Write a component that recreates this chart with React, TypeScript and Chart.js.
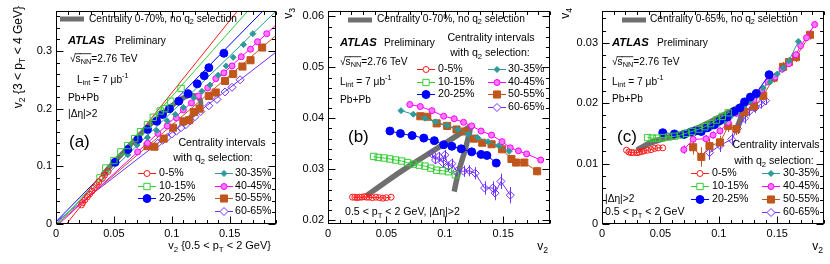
import React, { useEffect, useRef } from "react";
import { Chart, registerables } from "chart.js";

Chart.register(...registerables);

type Pt = [number, number];

// ---------------- shared axis data ----------------
const X_MIN = 0;
const X_MAX = 0.19;
const X_TICKS = [0, 0.05, 0.1, 0.15];
const X_TICK_LABELS = ["0", "0.05", "0.1", "0.15"];
const X_MINOR = 0.01;

const CENTRALITY_LABELS = ["0-5%", "10-15%", "20-25%", "30-35%", "40-45%", "50-55%", "60-65%"];

// ---------------- panel (a): v2{3<pT<4} vs v2{0.5<pT<2} ----------------
const A_Y_MIN = 0;
const A_Y_MAX = 0.37;
const A_Y_TICKS = [0, 0.1, 0.2, 0.3];
const A_Y_TICK_LABELS = ["0", "0.1", "0.2", "0.3"];
const A_Y_MINOR = 0.02;

const A_0_5: Pt[] = [[0.022, 0.033], [0.023, 0.037], [0.025, 0.042], [0.027, 0.047], [0.029, 0.052], [0.031, 0.057], [0.033, 0.063], [0.035, 0.068], [0.037, 0.073], [0.04, 0.079], [0.042, 0.085], [0.045, 0.091]];
const A_10_15: Pt[] = [[0.038, 0.08], [0.043, 0.097], [0.05, 0.11], [0.056, 0.125], [0.062, 0.136], [0.068, 0.148], [0.073, 0.16], [0.079, 0.172], [0.084, 0.185], [0.09, 0.196], [0.094, 0.2], [0.099, 0.213], [0.108, 0.235]];
const A_20_25: Pt[] = [[0.051, 0.107], [0.062, 0.129], [0.071, 0.147], [0.079, 0.164], [0.087, 0.178], [0.092, 0.19], [0.098, 0.2], [0.106, 0.213], [0.114, 0.226], [0.122, 0.243], [0.128, 0.257], [0.132, 0.271], [0.145, 0.296]];
const A_30_35: Pt[] = [[0.062, 0.12], [0.07, 0.137], [0.079, 0.15], [0.087, 0.162], [0.096, 0.179], [0.103, 0.19], [0.11, 0.202], [0.119, 0.219], [0.126, 0.23], [0.133, 0.241], [0.14, 0.258], [0.147, 0.274], [0.153, 0.289], [0.162, 0.311], [0.17, 0.33]];
const A_40_45: Pt[] = [[0.0705, 0.125], [0.079, 0.14], [0.088, 0.157], [0.096, 0.17], [0.104, 0.184], [0.11, 0.198], [0.117, 0.21], [0.123, 0.222], [0.131, 0.236], [0.138, 0.252], [0.145, 0.262], [0.152, 0.274], [0.16, 0.29], [0.168, 0.303], [0.174, 0.316], [0.182, 0.33]];
const A_50_55: Pt[] = [[0.079, 0.135], [0.085, 0.134], [0.093, 0.148], [0.101, 0.167], [0.11, 0.178], [0.115, 0.18], [0.119, 0.194], [0.124, 0.2], [0.132, 0.222], [0.138, 0.228], [0.146, 0.248], [0.153, 0.26], [0.161, 0.273], [0.168, 0.284], [0.178, 0.306]];
const A_60_65: Pt[] = [[0.088, 0.14], [0.092, 0.145], [0.096, 0.15], [0.1, 0.156], [0.104, 0.161], [0.108, 0.167], [0.112, 0.172], [0.116, 0.179], [0.12, 0.186], [0.125, 0.195], [0.132, 0.205], [0.139, 0.216], [0.146, 0.229], [0.152, 0.237], [0.159, 0.25]];

// straight-line fits (end points)
const A_FIT_0_5: Pt[] = [[0.009, 0], [0.157, 0.37]];
const A_FIT_10_15: Pt[] = [[0.002, 0], [0.166, 0.37]];
const A_FIT_20_25: Pt[] = [[0, 0.004], [0.179, 0.37]];
const A_FIT_30_35: Pt[] = [[0, 0], [0.19, 0.369]];
const A_FIT_40_45: Pt[] = [[0.0026, 0], [0.19, 0.345]];
const A_FIT_50_55: Pt[] = [[0.001, 0], [0.19, 0.327]];
const A_FIT_60_65: Pt[] = [[0, 0.0036], [0.19, 0.298]];

const A_ALL: Pt[] = [[0.04, 0.085], [0.05, 0.107], [0.06, 0.128], [0.07, 0.15], [0.08, 0.17], [0.09, 0.188], [0.1, 0.205], [0.108, 0.217], [0.116, 0.223], [0.123, 0.219], [0.125, 0.207], [0.121, 0.195], [0.115, 0.183], [0.109, 0.172]];

// ---------------- panel (b): v3 vs v2 ----------------
const B_Y_MIN = 0.01923;
const B_Y_MAX = 0.06115;
const B_Y_TICKS = [0.02, 0.03, 0.04, 0.05, 0.06];
const B_Y_TICK_LABELS = ["0.02", "0.03", "0.04", "0.05", "0.06"];
const B_Y_MINOR = 0.002;

const B_0_5: Pt[] = [[0.021, 0.0245], [0.023, 0.0245], [0.025, 0.0244], [0.027, 0.0245], [0.029, 0.0245], [0.031, 0.0246], [0.033, 0.0245], [0.035, 0.0245], [0.038, 0.0244], [0.041, 0.0245], [0.044, 0.0244], [0.047, 0.0243], [0.05, 0.0244], [0.054, 0.0245]];
const B_10_15: Pt[] = [[0.039, 0.0325], [0.043, 0.0323], [0.048, 0.0322], [0.053, 0.032], [0.058, 0.0318], [0.063, 0.0316], [0.068, 0.0313], [0.073, 0.031], [0.078, 0.0308], [0.083, 0.0306], [0.088, 0.0302], [0.093, 0.0298], [0.098, 0.0297], [0.103, 0.0295], [0.109, 0.0289]];
const B_20_25: Pt[] = [[0.053, 0.0375], [0.062, 0.037], [0.072, 0.0366], [0.082, 0.0361], [0.091, 0.0356], [0.099, 0.0348], [0.106, 0.0345], [0.114, 0.034], [0.123, 0.0334], [0.131, 0.0329], [0.136, 0.0327], [0.144, 0.0312]];
const B_30_35: Pt[] = [[0.0625, 0.0415], [0.073, 0.0408], [0.083, 0.04], [0.092, 0.0393], [0.102, 0.0386], [0.111, 0.0378], [0.12, 0.0369], [0.128, 0.0362], [0.137, 0.0354], [0.146, 0.0346], [0.155, 0.0335]];
const B_40_45: Pt[] = [[0.07, 0.0427], [0.079, 0.0423], [0.089, 0.0415], [0.099, 0.0404], [0.108, 0.0399], [0.116, 0.0392], [0.123, 0.0385], [0.131, 0.0375], [0.14, 0.0367], [0.149, 0.0354], [0.156, 0.0342], [0.163, 0.0336], [0.17, 0.033], [0.182, 0.0318]];
const B_50_55: Pt[] = [[0.079, 0.0404], [0.085, 0.0403], [0.093, 0.039], [0.102, 0.0385], [0.11, 0.0378], [0.117, 0.0374], [0.125, 0.036], [0.132, 0.0352], [0.14, 0.0349], [0.149, 0.0339], [0.157, 0.032], [0.161, 0.0313], [0.168, 0.0313], [0.179, 0.0296]];
const B_60_65: Pt[] = [[0.089, 0.033], [0.092, 0.0318], [0.095, 0.0325], [0.098, 0.0313], [0.1, 0.0328], [0.103, 0.0305], [0.106, 0.0311], [0.11, 0.0296], [0.116, 0.0296], [0.121, 0.0297], [0.126, 0.0292], [0.134, 0.0263], [0.141, 0.0263], [0.143, 0.0253], [0.148, 0.0276], [0.156, 0.0249]];
const B_ERR_50_55 = [0.0002, 0.0002, 0.0002, 0.0002, 0.0003, 0.0003, 0.0003, 0.0003, 0.0004, 0.0004, 0.0006, 0.0006, 0.0006, 0.0008];
const B_ERR_60_65 = [0.0008, 0.0008, 0.0009, 0.0009, 0.001, 0.001, 0.001, 0.001, 0.0011, 0.0011, 0.0012, 0.0013, 0.0013, 0.0014, 0.0015, 0.0016];
const B_ALL: Pt[] = [[0.033, 0.0248], [0.05, 0.0276], [0.07, 0.0307], [0.09, 0.0336], [0.105, 0.0358], [0.115, 0.0373], [0.122, 0.0384], [0.12, 0.0362], [0.117, 0.0335], [0.113, 0.0305], [0.11, 0.0278], [0.108, 0.0256]];

// ---------------- panel (c): v4 vs v2 ----------------
const C_Y_MIN = 0;
const C_Y_MAX = 0.0353;
const C_Y_TICKS = [0, 0.01, 0.02, 0.03];
const C_Y_TICK_LABELS = ["0", "0.01", "0.02", "0.03"];
const C_Y_MINOR = 0.002;

const C_0_5: Pt[] = [[0.021, 0.0122], [0.023, 0.0119], [0.025, 0.0118], [0.027, 0.0118], [0.03, 0.0118], [0.032, 0.0119], [0.034, 0.012], [0.036, 0.0121], [0.039, 0.0122], [0.042, 0.0123], [0.045, 0.0125], [0.048, 0.0126], [0.052, 0.0126]];
const C_10_15: Pt[] = [[0.039, 0.0143], [0.043, 0.0142], [0.047, 0.0142], [0.052, 0.0143], [0.057, 0.0144], [0.062, 0.0145], [0.067, 0.0147], [0.072, 0.015], [0.077, 0.0153], [0.083, 0.0157], [0.088, 0.0161], [0.093, 0.0166], [0.098, 0.0172], [0.103, 0.0178], [0.108, 0.0184]];
const C_20_25: Pt[] = [[0.052, 0.0151], [0.062, 0.0149], [0.07, 0.0148], [0.076, 0.0152], [0.08, 0.0154], [0.085, 0.0153], [0.09, 0.0159], [0.096, 0.0164], [0.101, 0.0171], [0.107, 0.0177], [0.113, 0.0186], [0.118, 0.0192], [0.122, 0.0202], [0.127, 0.021], [0.132, 0.0216], [0.143, 0.0247]];
const C_30_35: Pt[] = [[0.073, 0.0148], [0.08, 0.0151], [0.087, 0.0155], [0.093, 0.0159], [0.099, 0.0164], [0.105, 0.017], [0.11, 0.0178], [0.116, 0.0186], [0.121, 0.0194], [0.127, 0.0203], [0.133, 0.0212], [0.138, 0.0225], [0.144, 0.0235], [0.15, 0.0248], [0.155, 0.0258], [0.16, 0.027], [0.168, 0.0302]];
const C_40_45: Pt[] = [[0.07, 0.0123], [0.078, 0.014], [0.089, 0.0141], [0.095, 0.0147], [0.101, 0.0154], [0.108, 0.0168], [0.115, 0.0183], [0.12, 0.0193], [0.125, 0.0202], [0.13, 0.0205], [0.137, 0.0222], [0.142, 0.0235], [0.148, 0.0243], [0.154, 0.0256], [0.16, 0.0265], [0.166, 0.028], [0.17, 0.0295], [0.175, 0.0308], [0.182, 0.033]];
const C_50_55: Pt[] = [[0.078, 0.0127], [0.085, 0.0111], [0.092, 0.0129], [0.101, 0.0135], [0.108, 0.0162], [0.115, 0.0157], [0.122, 0.0185], [0.13, 0.0195], [0.138, 0.0212], [0.147, 0.0242], [0.155, 0.026], [0.16, 0.0268], [0.166, 0.0276], [0.178, 0.0313]];
const C_60_65: Pt[] = [[0.092, 0.0118], [0.101, 0.013], [0.111, 0.014], [0.116, 0.0158], [0.122, 0.0175], [0.126, 0.0186], [0.131, 0.0192], [0.136, 0.0198], [0.14, 0.0204]];
const C_ERR_40_45 = [0.0007, 0.0006, 0.0006, 0.0006, 0.0006, 0.0006, 0.0005, 0.0005, 0.0005, 0.0005, 0.0005, 0.0005, 0.0005, 0.0005, 0.0005, 0.0005, 0.0005, 0.0005, 0.0005];
const C_ERR_50_55 = [0.0012, 0.0016, 0.0013, 0.0011, 0.001, 0.001, 0.0009, 0.0009, 0.0008, 0.0008, 0.0008, 0.0008, 0.0008, 0.0008];
const C_ERR_60_65 = [0.0012, 0.0011, 0.001, 0.0009, 0.0009, 0.0008, 0.0008, 0.0007, 0.0007];
const C_ALL: Pt[] = [[0.03, 0.0122], [0.04, 0.0133], [0.05, 0.014], [0.06, 0.0145], [0.07, 0.015], [0.08, 0.0157], [0.09, 0.0166], [0.1, 0.0176], [0.11, 0.0186], [0.118, 0.0194], [0.122, 0.0198], [0.12, 0.0182], [0.117, 0.0165], [0.115, 0.0157]];

// ---------------- styles ----------------
const FONT = '"Liberation Sans", Arial, Helvetica, sans-serif';
const GRAY = "#6f6f6f";
type MStyle = { color: string; shape: "circle" | "rect" | "rectRot"; open: boolean; r: number; fill?: string };
const SERIES_STYLE: MStyle[] = [
  { color: "#ff1a1a", shape: "circle", open: true, r: 3 },
  { color: "#33cc33", shape: "rect", open: true, r: 4.5 },
  { color: "#0000ff", shape: "circle", open: false, r: 4 },
  { color: "#2e9999", shape: "rectRot", open: false, r: 3 },
  { color: "#ff00ff", shape: "circle", open: false, r: 3, fill: "#ff77ff" },
  { color: "#c0561b", shape: "rect", open: false, r: 5 },
  { color: "#7030ff", shape: "rectRot", open: true, r: 4 },
];

type TextItem = { s: string; x: number; y: number; size?: number; align?: "left" | "center" | "right"; bold?: boolean; italic?: boolean; rot?: boolean };

interface PanelSpec {
  left: number;
  width: number;
  frame: { l: number; r: number; t: number; b: number };
  yMin: number; yMax: number; yTicks: number[]; yTickLabels: string[]; yMinor: number;
  series: Pt[][];
  errs: (number[] | null)[];
  fits: Pt[][] | null;
  gray: Pt[]; grayWidth: number; grayTension: number;
  connect: boolean;
  texts: TextItem[];
  grayLegend: { x1: number; x2: number; y: number };
  legend: { c1m: number; c1t: number; c2m: number; c2t: number; rows: number[]; half: number };
}

const TXT = 10.2;
const TXT_L = 10.6;
const TITLE = 12;

// ---------------- rich text ----------------
type Seg = { t: string; dy: number; scale: number; over: boolean };
function matchBrace(s: string, open: number): number {
  let depth = 0;
  for (let i = open; i < s.length; i++) {
    if (s[i] === "{") depth++;
    else if (s[i] === "}") { depth--; if (depth === 0) return i; }
  }
  return s.length - 1;
}
function parseRich(src: string): Seg[] {
  const s = src.replace(/#mu/g, "\u03bc").replace(/#Delta/g, "\u0394").replace(/#eta/g, "\u03b7");
  const segs: Seg[] = [];
  const walk = (str: string, mode: { dy: number; scale: number; over: boolean }) => {
    let buf = "";
    const flush = () => { if (buf) { segs.push({ t: buf, ...mode }); buf = ""; } };
    let i = 0;
    while (i < str.length) {
      if ((str[i] === "_" || str[i] === "^") && str[i + 1] === "{") {
        flush();
        const end = matchBrace(str, i + 1);
        walk(str.slice(i + 2, end), { dy: mode.dy + (str[i] === "_" ? 0.32 : -0.38) * mode.scale, scale: mode.scale * 0.72, over: mode.over });
        i = end + 1;
      } else if (str.startsWith("#sqrt{", i)) {
        flush();
        const end = matchBrace(str, i + 5);
        segs.push({ t: "\u221a", ...mode });
        walk(str.slice(i + 6, end), { ...mode, over: true });
        i = end + 1;
      } else { buf += str[i]; i++; }
    }
    flush();
  };
  walk(s, { dy: 0, scale: 1, over: false });
  return segs;
}
function drawRich(ctx: CanvasRenderingContext2D, item: TextItem, offX: number) {
  const size = item.size ?? TXT;
  const segs = parseRich(item.s);
  const fontOf = (sc: number) => `${item.italic ? "italic " : ""}${item.bold ? "bold " : ""}${size * sc}px ${FONT}`;
  const widths = segs.map((sg) => { ctx.font = fontOf(sg.scale); return ctx.measureText(sg.t).width; });
  const total = widths.reduce((a, b) => a + b, 0);
  ctx.save();
  ctx.translate(item.x - offX, item.y);
  if (item.rot) ctx.rotate(-Math.PI / 2);
  let cx = item.align === "center" ? -total / 2 : item.align === "right" ? -total : 0;
  ctx.textBaseline = "middle";
  ctx.textAlign = "left";
  ctx.fillStyle = "#000";
  ctx.strokeStyle = "#000";
  ctx.lineWidth = 0.8;
  segs.forEach((sg, i) => {
    ctx.font = fontOf(sg.scale);
    ctx.fillText(sg.t, cx, sg.dy * size);
    if (sg.over) {
      ctx.beginPath();
      ctx.moveTo(cx - 1, -0.52 * size);
      ctx.lineTo(cx + widths[i], -0.52 * size);
      ctx.stroke();
    }
    cx += widths[i];
  });
  ctx.restore();
}

function drawMarker(ctx: CanvasRenderingContext2D, st: MStyle, x: number, y: number) {
  ctx.save();
  ctx.strokeStyle = st.color;
  ctx.fillStyle = st.open ? "#ffffff" : st.fill ?? st.color;
  ctx.lineWidth = 1;
  ctx.beginPath();
  const r = st.r;
  if (st.shape === "circle") ctx.arc(x, y, r, 0, Math.PI * 2);
  else if (st.shape === "rect") { const h = r * Math.SQRT1_2; ctx.rect(x - h, y - h, 2 * h, 2 * h); }
  else { ctx.moveTo(x - r, y); ctx.lineTo(x, y - r); ctx.lineTo(x + r, y); ctx.lineTo(x, y + r); ctx.closePath(); }
  ctx.fill();
  ctx.stroke();
  ctx.restore();
}

// ---------------- chart config ----------------
function buildConfig(spec: PanelSpec): any {
  const toXY = (pts: Pt[]) => pts.map(([x, y]) => ({ x, y }));
  const datasets: any[] = [];
  spec.series.forEach((pts, i) => {
    const st = SERIES_STYLE[i];
    datasets.push({
      label: CENTRALITY_LABELS[i],
      data: toXY(pts),
      showLine: spec.connect,
      borderColor: st.color,
      borderWidth: 1,
      pointStyle: st.shape,
      pointRadius: st.r,
      pointBackgroundColor: st.open ? "rgba(255,255,255,0)" : st.fill ?? st.color,
      pointBorderColor: st.color,
      pointBorderWidth: 1,
      errY: spec.errs[i],
      order: 1,
    });
  });
  if (spec.fits) {
    spec.fits.forEach((pts, i) => {
      datasets.push({ data: toXY(pts), showLine: true, borderColor: SERIES_STYLE[i].color, borderWidth: 1, pointRadius: 0, order: 3 });
    });
  }
  datasets.push({ data: toXY(spec.gray), showLine: true, borderColor: GRAY, borderWidth: spec.grayWidth, borderCapStyle: "butt", pointRadius: 0, tension: spec.grayTension, order: 2 });

  const errPlugin = {
    id: "errbars",
    beforeDatasetsDraw(chart: any) {
      const { ctx, chartArea: ca, scales } = chart;
      ctx.save();
      ctx.beginPath();
      ctx.rect(ca.left, ca.top, ca.right - ca.left, ca.bottom - ca.top);
      ctx.clip();
      chart.data.datasets.forEach((ds: any) => {
        if (!ds.errY) return;
        ctx.strokeStyle = ds.borderColor;
        ctx.lineWidth = 1;
        ds.data.forEach((p: any, k: number) => {
          const e = ds.errY[k];
          if (!e) return;
          const px = Math.round(scales.x.getPixelForValue(p.x)) + 0.5;
          ctx.beginPath();
          ctx.moveTo(px, scales.y.getPixelForValue(p.y - e));
          ctx.lineTo(px, scales.y.getPixelForValue(p.y + e));
          ctx.stroke();
        });
      });
      ctx.restore();
    },
  };

  const decoPlugin = {
    id: "deco",
    afterDraw(chart: any) {
      const { ctx, chartArea: ca, scales } = chart;
      const xs = scales.x;
      const ys = scales.y;
      const L = Math.round(ca.left) + 0.5;
      const R = Math.round(ca.right) - 0.5;
      const T = Math.round(ca.top) + 0.5;
      const B = Math.round(ca.bottom) - 0.5;
      ctx.save();
      ctx.strokeStyle = "#000";
      ctx.lineWidth = 1;
      ctx.strokeRect(L, T, R - L, B - T);
      const MAJ = 7;
      const MIN = 3.5;
      ctx.beginPath();
      const isMajor = (v: number, list: number[]) => list.some((m) => Math.abs(m - v) < 1e-9);
      for (let k = 0; k * X_MINOR <= X_MAX + 1e-9; k++) {
        const v = +(k * X_MINOR).toFixed(6);
        const len = isMajor(v, X_TICKS) ? MAJ : MIN;
        const px = Math.round(xs.getPixelForValue(v)) + 0.5;
        ctx.moveTo(px, B); ctx.lineTo(px, B - len);
        ctx.moveTo(px, T); ctx.lineTo(px, T + len);
      }
      const k0 = Math.ceil(spec.yMin / spec.yMinor - 1e-6);
      for (let k = k0; k * spec.yMinor <= spec.yMax + 1e-9; k++) {
        const v = +(k * spec.yMinor).toFixed(6);
        const len = isMajor(v, spec.yTicks) ? MAJ : MIN;
        const py = Math.round(ys.getPixelForValue(v)) + 0.5;
        ctx.moveTo(L, py); ctx.lineTo(L + len, py);
        ctx.moveTo(R, py); ctx.lineTo(R - len, py);
      }
      ctx.stroke();

      // gray legend sample
      const g = spec.grayLegend;
      ctx.fillStyle = GRAY;
      ctx.fillRect(g.x1 - spec.left, g.y - 2.5, g.x2 - g.x1, 5);

      // centrality legend
      const lg = spec.legend;
      CENTRALITY_LABELS.forEach((lab, i) => {
        const col2 = i >= 3;
        const row = col2 ? i - 3 : i;
        const mx = (col2 ? lg.c2m : lg.c1m) - spec.left;
        const tx = col2 ? lg.c2t : lg.c1t;
        const y = lg.rows[row];
        const st = SERIES_STYLE[i];
        ctx.strokeStyle = st.color;
        ctx.lineWidth = 1;
        ctx.beginPath();
        ctx.moveTo(mx - lg.half, y + 0.5);
        ctx.lineTo(mx + lg.half, y + 0.5);
        ctx.stroke();
        drawMarker(ctx, st, mx, y + 0.5);
        drawRich(ctx, { s: lab, x: tx, y, size: TXT_L }, spec.left);
      });

      spec.texts.forEach((t) => drawRich(ctx, t, spec.left));
      ctx.restore();
    },
  };

  const tickFont = { family: FONT, size: 11 };
  return {
    type: "scatter",
    data: { datasets },
    options: {
      animation: false,
      responsive: false,
      devicePixelRatio: 1,
      events: [],
      layout: { padding: { top: spec.frame.t, right: spec.left + spec.width - spec.frame.r, left: 0, bottom: 0 } },
      plugins: { legend: { display: false }, tooltip: { enabled: false } },
      scales: {
        x: {
          type: "linear",
          min: X_MIN,
          max: X_MAX,
          grid: { display: false, drawTicks: false },
          border: { display: false },
          ticks: { color: "#000", font: tickFont, padding: 3, maxRotation: 0, autoSkip: false, callback: (_v: any, i: number) => X_TICK_LABELS[i] ?? "" },
          afterBuildTicks: (s: any) => { s.ticks = X_TICKS.map((value) => ({ value })); },
          afterFit: (s: any) => { s.height = 264 - spec.frame.b; },
        },
        y: {
          type: "linear",
          min: spec.yMin,
          max: spec.yMax,
          grid: { display: false, drawTicks: false },
          border: { display: false },
          ticks: { color: "#000", font: tickFont, padding: 4, autoSkip: false, callback: (_v: any, i: number) => spec.yTickLabels[i] ?? "" },
          afterBuildTicks: (s: any) => { s.ticks = spec.yTicks.map((value) => ({ value })); },
          afterFit: (s: any) => { s.width = spec.frame.l - spec.left; },
        },
      },
    },
    plugins: [errPlugin, decoPlugin],
  };
}

// ---------------- panel specs ----------------
const PANEL_A: PanelSpec = {
  left: 0, width: 282,
  frame: { l: 56, r: 279, t: 5, b: 224 },
  yMin: A_Y_MIN, yMax: A_Y_MAX, yTicks: A_Y_TICKS, yTickLabels: A_Y_TICK_LABELS, yMinor: A_Y_MINOR,
  series: [A_0_5, A_10_15, A_20_25, A_30_35, A_40_45, A_50_55, A_60_65],
  errs: [null, null, null, null, null, null, null],
  fits: [A_FIT_0_5, A_FIT_10_15, A_FIT_20_25, A_FIT_30_35, A_FIT_40_45, A_FIT_50_55, A_FIT_60_65],
  gray: A_ALL, grayWidth: 5, grayTension: 0.35,
  connect: false,
  grayLegend: { x1: 60, x2: 84, y: 19 },
  legend: { c1m: 147, c1t: 159, c2m: 224, c2t: 235, rows: [173, 186, 198, 211], half: 9 },
  texts: [
    { s: "Centrality 0-70%, no q_{2} selection", x: 89, y: 19 },
    { s: "ATLAS", x: 68, y: 41, size: 11.3, bold: true, italic: true },
    { s: "Preliminary", x: 115, y: 41 },
    { s: "#sqrt{s_{NN}}=2.76 TeV", x: 70, y: 59 },
    { s: "L_{int} = 7 #mub^{-1}", x: 77, y: 80 },
    { s: "Pb+Pb", x: 68, y: 98 },
    { s: "|#Delta#eta|>2", x: 68, y: 114 },
    { s: "(a)", x: 69, y: 142, size: 17 },
    { s: "Centrality intervals", x: 222, y: 143, size: TXT_L, align: "center" },
    { s: "with q_{2} selection:", x: 213, y: 158, size: TXT_L, align: "center" },
    { s: "v_{2} {3 < p_{T} < 4 GeV}", x: 19, y: 6, size: TITLE, align: "right", rot: true },
    { s: "v_{2} {0.5 < p_{T} < 2 GeV}", x: 271, y: 246, size: 11, align: "right" },
  ],
};

const PANEL_B: PanelSpec = {
  left: 282, width: 274,
  frame: { l: 328, r: 551, t: 5, b: 224 },
  yMin: B_Y_MIN, yMax: B_Y_MAX, yTicks: B_Y_TICKS, yTickLabels: B_Y_TICK_LABELS, yMinor: B_Y_MINOR,
  series: [B_0_5, B_10_15, B_20_25, B_30_35, B_40_45, B_50_55, B_60_65],
  errs: [null, null, null, null, null, B_ERR_50_55, B_ERR_60_65],
  fits: null,
  gray: B_ALL, grayWidth: 5.5, grayTension: 0.2,
  connect: true,
  grayLegend: { x1: 348, x2: 372, y: 20 },
  legend: { c1m: 426, c1t: 438, c2m: 497, c2t: 508, rows: [69, 82, 94, 107], half: 9 },
  texts: [
    { s: "Centrality 0-70%, no q_{2} selection", x: 377, y: 19 },
    { s: "ATLAS", x: 340, y: 43, size: 11.3, bold: true, italic: true },
    { s: "Preliminary", x: 384, y: 43 },
    { s: "#sqrt{s_{NN}}=2.76 TeV", x: 340, y: 62 },
    { s: "L_{int} = 7 #mub^{-1}", x: 340, y: 82 },
    { s: "Pb+Pb", x: 340, y: 100 },
    { s: "(b)", x: 348, y: 137, size: 17 },
    { s: "Centrality intervals", x: 491, y: 38, size: TXT_L, align: "center" },
    { s: "with q_{2} selection:", x: 490, y: 53, size: TXT_L, align: "center" },
    { s: "0.5 < p_{T} < 2 GeV, |#Delta#eta|>2", x: 345, y: 212, size: TXT_L },
    { s: "v_{3}", x: 289, y: 8, size: TITLE, align: "right", rot: true },
    { s: "v_{2}", x: 548, y: 247, size: TITLE, align: "right" },
  ],
};

const PANEL_C: PanelSpec = {
  left: 556, width: 274,
  frame: { l: 602, r: 827, t: 5, b: 224 },
  yMin: C_Y_MIN, yMax: C_Y_MAX, yTicks: C_Y_TICKS, yTickLabels: C_Y_TICK_LABELS, yMinor: C_Y_MINOR,
  series: [C_0_5, C_10_15, C_20_25, C_30_35, C_40_45, C_50_55, C_60_65],
  errs: [null, null, null, null, C_ERR_40_45, C_ERR_50_55, C_ERR_60_65],
  fits: null,
  gray: C_ALL, grayWidth: 6, grayTension: 0.2,
  connect: true,
  grayLegend: { x1: 622, x2: 646, y: 20 },
  legend: { c1m: 700, c1t: 712, c2m: 771, c2t: 783, rows: [173, 186, 199, 212], half: 9 },
  texts: [
    { s: "Centrality 0-65%, no q_{2} selection", x: 650, y: 19 },
    { s: "ATLAS", x: 612, y: 43, size: 11.3, bold: true, italic: true },
    { s: "Preliminary", x: 657, y: 43 },
    { s: "#sqrt{s_{NN}}=2.76 TeV", x: 612, y: 62 },
    { s: "L_{int} = 7 #mub^{-1}", x: 612, y: 82 },
    { s: "Pb+Pb", x: 612, y: 99 },
    { s: "(c)", x: 617, y: 137, size: 17 },
    { s: "Centrality intervals", x: 776, y: 145, size: TXT_L, align: "center" },
    { s: "with q_{2} selection:", x: 774, y: 161, size: TXT_L, align: "center" },
    { s: "|#Delta#eta|>2", x: 605, y: 199 },
    { s: "0.5 < p_{T} < 2 GeV", x: 605, y: 212, size: TXT_L },
    { s: "v_{4}", x: 566, y: 8, size: TITLE, align: "right", rot: true },
    { s: "v_{2}", x: 823, y: 247, size: TITLE, align: "right" },
  ],
};

function Panel({ spec }: { spec: PanelSpec }) {
  const ref = useRef<HTMLCanvasElement>(null);
  useEffect(() => {
    if (!ref.current) return;
    const chart = new Chart(ref.current, buildConfig(spec));
    return () => chart.destroy();
  }, [spec]);
  return (
    <canvas
      ref={ref}
      width={spec.width}
      height={264}
      style={{ position: "absolute", left: spec.left, top: 0, width: spec.width, height: 264 }}
    />
  );
}

export default function App() {
  return (
    <div style={{ position: "absolute", left: 0, top: 0, width: 830, height: 264, background: "#fff", overflow: "hidden" }}>
      <Panel spec={PANEL_A} />
      <Panel spec={PANEL_B} />
      <Panel spec={PANEL_C} />
    </div>
  );
}
